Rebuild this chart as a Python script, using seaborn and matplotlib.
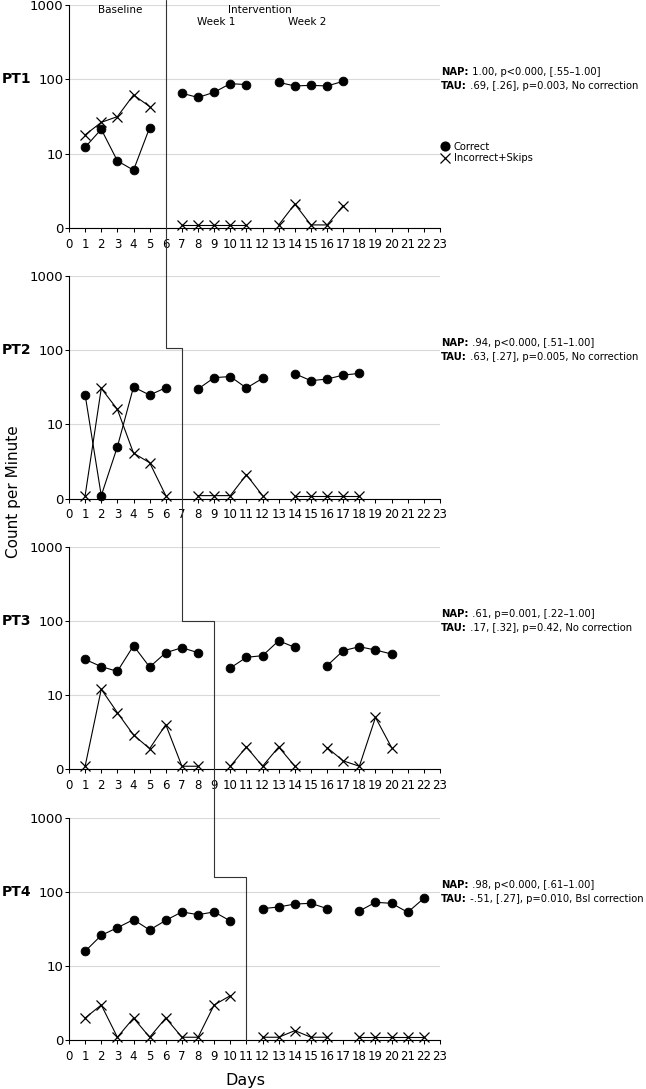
import numpy as np
import pandas as pd
import matplotlib
matplotlib.use("Agg")
import matplotlib.pyplot as plt
import matplotlib.transforms as mtransforms
from matplotlib.lines import Line2D
from matplotlib.ticker import NullLocator
import seaborn as sns

sns.set_theme(style="white")
plt.rcParams["font.family"] = ["DejaVu Sans"]
plt.rcParams["text.color"] = "black"
plt.rcParams["axes.labelcolor"] = "black"
plt.rcParams["xtick.color"] = "black"
plt.rcParams["ytick.color"] = "black"

nan = np.nan
days = np.arange(1, 23)
participants = ["PT1", "PT2", "PT3", "PT4"]

pt1_correct = [12.2, 21.3, 8.0, 6.0, 22.4, nan, 65, 57, 67, 87.5, 85, nan, 91, 81.5, 83, 81.5, 94,
               nan, nan, nan, nan, nan]
pt1_incorrect = [17.9, 26.4, 31.5, 61.7, 43, nan, 0, 0, 0, 0, 0, nan, 0, 2.1, 0, 0, 2.0,
                 nan, nan, nan, nan, nan]
pt2_correct = [25, 0, 5.0, 31.8, 24.8, 31.1, nan, 29.9, 42.5, 44, 30.8, 41.6, nan, 48, 38.7, 40.7, 46, 48.5,
               nan, nan, nan, nan]
pt2_incorrect = [0, 30.5, 15.9, 4.1, 3.05, 0, nan, 0, 0, 0, 2.1, 0, nan, 0, 0, 0, 0, 0,
                 nan, nan, nan, nan]
pt3_correct = [30.3, 24.2, 20.9, 46.3, 23.9, 37.3, 43.5, 37.3, nan, 23.2, 32.3, 34, 54, 44, nan,
               24.9, 39.7, 44.9, 40.5, 35.8, nan, nan]
pt3_incorrect = [0, 12, 5.8, 2.9, 1.9, 4.0, 0, 0, nan, 0, 2.0, 0, 2.0, 0, nan,
                 1.96, 1.3, 0, 5.0, 1.96, nan, nan]
pt4_correct = [15.9, 26.1, 33.1, 42.5, 30.8, 41.6, 54, 49.6, 54, 40.8, nan, 59.8, 63, 69, 70.6, 59.8, nan,
               55.6, 72.8, 70.6, 53.4, 82.5]
pt4_incorrect = [2.0, 3.0, 0, 2.0, 0, 2.0, 0, 0, 3.0, 4.0, nan, 0, 0, 1.35, 0, 0, nan,
                 0, 0, 0, 0, 0]

correct_series = [pt1_correct, pt2_correct, pt3_correct, pt4_correct]
incorrect_series = [pt1_incorrect, pt2_incorrect, pt3_incorrect, pt4_incorrect]

nap_stats = [" 1.00, p<0.000, [.55\u20131.00]", " .94, p<0.000, [.51\u20131.00]",
             " .61, p=0.001, [.22\u20131.00]", " .98, p<0.000, [.61\u20131.00]"]
tau_stats = [" .69, [.26], p=0.003, No correction", " .63, [.27], p=0.005, No correction",
             " .17, [.32], p=0.42, No correction", " -.51, [.27], p=0.010, Bsl correction"]

phase_change_x = [6, 7, 9, 11]
step_levels = [105, 100, 160]
ytick_values = [1, 10, 100, 1000]
ytick_labels = ["0", "10", "100", "1000"]
xticks = list(range(0, 24))
ZERO_FLOOR = 1.1  # zero counts are drawn just above the "0" baseline of the log axis

W, H = 646, 1089
fig = plt.figure(figsize=(W / 100, H / 100), dpi=100)
panel_px = [(5, 228), (275.7, 498.7), (546.7, 769.3), (818, 1040.3)]
ax_left, ax_right = 69, 440

axes = []
for i, (top, bot) in enumerate(panel_px):
    ax = fig.add_axes([ax_left / W, 1 - bot / H, (ax_right - ax_left) / W, (bot - top) / H])
    axes.append(ax)
    for vals, measure, mk, ms, mew in [(correct_series[i], "Correct", "o", 6.3, 0.6),
                                       (incorrect_series[i], "Incorrect+Skips", "x", 6.5, 0.9)]:
        v = np.array(vals, dtype=float)
        seg = np.cumsum(np.isnan(v))
        df = pd.DataFrame({"day": days, "value": v, "seg": seg})
        df = df.dropna()
        df["plot_value"] = np.where(df["value"] > 0, df["value"], ZERO_FLOOR)
        sns.lineplot(data=df, x="day", y="plot_value", units="seg", estimator=None,
                     color="black", marker=mk, markersize=ms, mec="black", mew=mew,
                     lw=0.8, legend=False, ax=ax, clip_on=False, zorder=3)
    ax.set_yscale("log")
    ax.set_ylim(1, 1000)
    ax.set_xlim(0, 23)
    ax.set_yticks(ytick_values)
    ax.set_yticklabels(ytick_labels)
    ax.yaxis.set_minor_locator(NullLocator())
    ax.set_xticks(xticks)
    ax.set_xticklabels([str(t) for t in xticks])
    ax.set_xlabel("")
    ax.set_ylabel("")
    ax.set_axisbelow(True)
    ax.yaxis.grid(True, color="#d9d9d9", lw=0.8)
    ax.xaxis.grid(False)
    sns.despine(ax=ax)
    for s in ["left", "bottom"]:
        ax.spines[s].set_color("black")
        ax.spines[s].set_linewidth(0.8)
    ax.tick_params(axis="both", which="major", bottom=True, left=True, direction="out",
                   length=3, width=0.75, color="black", labelcolor="black")
    ax.tick_params(axis="x", labelsize=8.5, pad=4)
    ax.tick_params(axis="y", labelsize=9.5, pad=1)

    trans = mtransforms.blended_transform_factory(ax.transAxes, ax.transData)
    ax.text(-0.102, 100, participants[i], transform=trans, ha="right", va="center",
            fontsize=10, fontweight="bold")
    nap_b = ax.annotate("NAP:", xy=(1.003, 100), xycoords=trans, xytext=(0, 5.0),
                        textcoords="offset points", ha="left", va="center",
                        fontsize=7.2, fontweight="bold", annotation_clip=False)
    ax.annotate(nap_stats[i], xy=(1, 0), xycoords=nap_b, ha="left", va="bottom", fontsize=7.2)
    tau_b = ax.annotate("TAU:", xy=(1.003, 100), xycoords=trans, xytext=(0, -5.0),
                        textcoords="offset points", ha="left", va="center",
                        fontsize=7.2, fontweight="bold", annotation_clip=False)
    ax.annotate(tau_stats[i], xy=(1, 0), xycoords=tau_b, ha="left", va="bottom", fontsize=7.2)

# phase labels in first panel
ax1 = axes[0]
tb = mtransforms.blended_transform_factory(ax1.transData, ax1.transAxes)
ax1.text(3.16, 0.978, "Baseline", transform=tb, ha="center", va="center", fontsize=7.5)
ax1.text(11.84, 0.978, "Intervention", transform=tb, ha="center", va="center", fontsize=7.5)
ax1.text(9.1, 0.924, "Week 1", transform=tb, ha="center", va="center", fontsize=7.5)
ax1.text(14.75, 0.924, "Week 2", transform=tb, ha="center", va="center", fontsize=7.5)

# legend
handles = [Line2D([], [], ls="none", marker="o", color="black", markersize=6.3),
           Line2D([], [], ls="none", marker="x", color="black", markersize=6.5, mew=0.9)]
ax1.legend(handles, ["Correct", "Incorrect+Skips"], loc="center left",
           bbox_to_anchor=(1.0, 10.3),
           bbox_transform=mtransforms.blended_transform_factory(ax1.transAxes, ax1.transData),
           frameon=False, fontsize=7.2, handlelength=1.0, handletextpad=0.4,
           borderpad=0, borderaxespad=0, labelspacing=0.15)

# multiple-baseline phase-change staircase line
inv = fig.transFigure.inverted()


def to_fig(ax, x, y):
    return inv.transform(ax.transData.transform((x, y)))


pts = [(to_fig(axes[0], phase_change_x[0], 1000)[0], 1.0)]
for k in range(1, 4):
    pts.append(tuple(to_fig(axes[k], phase_change_x[k - 1], step_levels[k - 1])))
    pts.append(tuple(to_fig(axes[k], phase_change_x[k], step_levels[k - 1])))
pts.append(tuple(to_fig(axes[3], phase_change_x[3], 1)))
xs, ys = zip(*pts)
fig.add_artist(Line2D(xs, ys, transform=fig.transFigure, color="#333333", lw=0.8))

fig.text(14 / W, 1 - 492 / H, "Count per Minute", rotation=90, ha="center", va="center", fontsize=11)
fig.text(245 / W, 1 - 1080 / H, "Days", ha="center", va="center", fontsize=11.5)

fig.savefig("out.png", dpi=100)
